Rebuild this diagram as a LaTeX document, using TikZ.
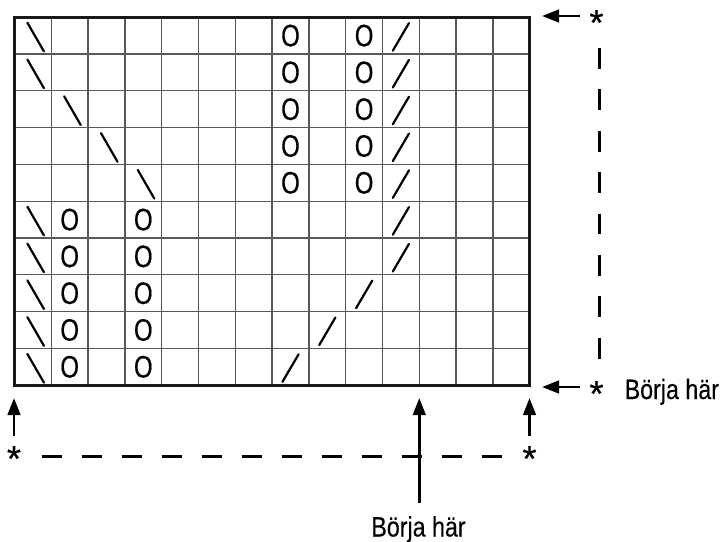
\documentclass[tikz,border=0pt]{standalone}
\usepackage{fontspec}
\setmainfont{Liberation Sans}
\newfontfamily\labelfont{Liberation Sans}[FakeStretch=0.83,FakeBold=0.2]
\newfontfamily\holefont{Liberation Sans}[FakeStretch=0.77,FakeBold=0.5]
\newfontfamily\starfont{Liberation Sans}[FakeBold=0.6]
\usetikzlibrary{arrows.meta}
\begin{document}
\begin{tikzpicture}[x=1pt,y=-1pt,
  gridline/.style={draw=black!65, line width=1.3pt},
  border/.style={draw=black!90, line width=3.2pt},
  stitch/.style={line width=2.2pt, line cap=round},
  hole/.style={font=\holefont\fontsize{31}{31}\selectfont, inner sep=0pt},
  arr/.style={line width=2.7pt, -{Triangle[length=17pt,width=12.5pt]}},
  dashline/.style={line width=3pt, dash pattern=on 20pt off 20pt},
  vdashline/.style={line width=3pt, dash pattern=on 20.7pt off 20.7pt},
  star/.style={font=\starfont\fontsize{36}{36}\selectfont, inner sep=0pt, anchor=base},
  lbl/.style={font=\labelfont\fontsize{28}{28}\selectfont, inner sep=0pt}]
\useasboundingbox (0,0) rectangle (725,541);
\begin{scope}[shift={(14.5,17.2)}, x=36.8pt, y=-36.8pt]
  \foreach \i in {1,...,13} \draw[gridline] (\i,0) -- (\i,10);
  \foreach \j in {1,...,9} \draw[gridline] (0,\j) -- (14,\j);
  % backslash stitches
  \foreach \i/\j in {0/0,0/1,1/2,2/3,3/4,0/5,0/6,0/7,0/8,0/9}
    \draw[stitch] (\i+0.35,\j+0.15) -- (\i+0.80,\j+0.93);
  % slash stitches
  \foreach \i/\j in {10/0,10/1,10/2,10/3,10/4,10/5,10/6,9/7,8/8,7/9}
    \draw[stitch] (\i+0.28,\j+0.91) -- (\i+0.72,\j+0.16);
  % yarn overs
  \foreach \i/\j in {7/0,7/1,7/2,7/3,7/4,9/0,9/1,9/2,9/3,9/4,1/5,1/6,1/7,1/8,1/9,3/5,3/6,3/7,3/8,3/9}
    \node[hole] (o-\i-\j) at (\i+0.5,\j+0.5) {O};
  \draw[border] (0,0) rectangle (14,10);
\end{scope}
% arrow coordinates
\coordinate (trs) at (580,16);   \coordinate (tre) at (542,16);
\coordinate (brs) at (580,387);  \coordinate (bre) at (542,387);
\coordinate (bls) at (14,436);   \coordinate (ble) at (14,398);
\coordinate (bcs) at (529.5,436);\coordinate (bce) at (529.5,398);
\coordinate (ms)  at (419.3,503);\coordinate (me)  at (419.3,398);
\draw[arr] (trs) -- (tre);
\draw[arr] (brs) -- (bre);
\draw[arr] (bls) -- (ble);
\draw[arr] (bcs) -- (bce);
\draw[arr] (ms) -- (me);
% dashed guides
\coordinate (hd1) at (41.7,456); \coordinate (hd2) at (501.7,456);
\coordinate (vd1) at (599.3,48); \coordinate (vd2) at (599.3,358.5);
\draw[dashline] (hd1) -- (hd2);
\draw[vdashline] (vd1) -- (vd2);
% stars
\node[star] (s1) at (596.5,35) {*};
\node[star] (s2) at (596.5,406) {*};
\node[star] (s3) at (14,471) {*};
\node[star] (s4) at (529.5,471) {*};
% labels
\node[lbl, anchor=base west] (l1) at (624.5,399) {Börja här};
\node[lbl, anchor=base] (l2) at (418.5,536.5) {Börja här};
\end{tikzpicture}
\end{document}
